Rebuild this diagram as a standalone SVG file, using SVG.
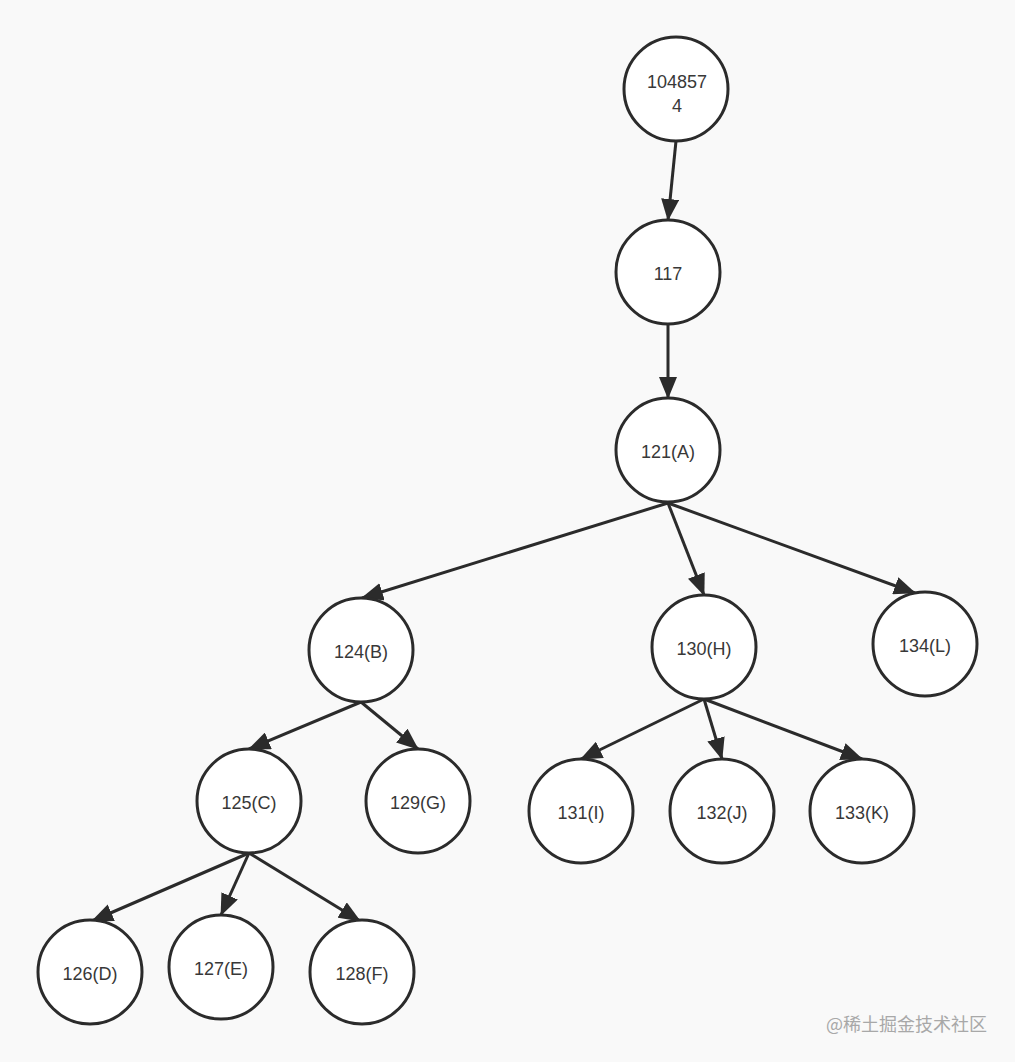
<svg xmlns="http://www.w3.org/2000/svg" width="1015" height="1062" viewBox="0 0 1015 1062">
<defs>
<style>
.n circle{fill:#ffffff;stroke:#2b2b2b;stroke-width:3}
.n text{font-family:"Liberation Sans","Noto Sans",Arial,sans-serif;font-size:18px;fill:#383838;text-anchor:middle}
.e line{stroke:#2b2b2b;stroke-width:3;marker-end:url(#ah)}
.wm{font-family:"Noto Sans CJK SC","Noto Sans",sans-serif;font-size:18px;fill:#a8a8a8}
</style>
<marker id="ah" markerUnits="userSpaceOnUse" markerWidth="22" markerHeight="18" refX="21" refY="9" orient="auto">
<path d="M0,0 L22,9 L0,18 z" fill="#2b2b2b"/>
</marker>
</defs>
<rect width="1015" height="1062" fill="#f9f9f9"/>
<g id="connectors" class="e">
<line x1="676" y1="141" x2="668" y2="220"/>
<line x1="668" y1="324" x2="668" y2="398"/>
<line x1="668" y1="503" x2="362" y2="598"/>
<line x1="668" y1="503" x2="704" y2="595"/>
<line x1="668" y1="503" x2="915" y2="593"/>
<line x1="361" y1="702" x2="249" y2="749"/>
<line x1="361" y1="702" x2="418" y2="749"/>
<line x1="704" y1="699" x2="581" y2="759"/>
<line x1="704" y1="699" x2="722" y2="759"/>
<line x1="704" y1="699" x2="862" y2="759"/>
<line x1="249" y1="853" x2="92" y2="921"/>
<line x1="249" y1="853" x2="221" y2="915"/>
<line x1="249" y1="853" x2="360" y2="921"/>
</g>
<g id="n1048574" class="n"><circle cx="676" cy="89" r="52"/><text x="677" y="88">104857</text><text x="677" y="112">4</text></g>
<g id="n117" class="n"><circle cx="668" cy="272" r="52"/><text x="668" y="280">117</text></g>
<g id="n121" class="n"><circle cx="668" cy="450" r="52"/><text x="668" y="458">121(A)</text></g>
<g id="n124" class="n"><circle cx="361" cy="650" r="52"/><text x="361" y="658">124(B)</text></g>
<g id="n130" class="n"><circle cx="704" cy="647" r="52"/><text x="704" y="655">130(H)</text></g>
<g id="n134" class="n"><circle cx="925" cy="644" r="52"/><text x="925" y="652">134(L)</text></g>
<g id="n125" class="n"><circle cx="249" cy="801" r="52"/><text x="249" y="809">125(C)</text></g>
<g id="n129" class="n"><circle cx="418" cy="801" r="52"/><text x="418" y="809">129(G)</text></g>
<g id="n131" class="n"><circle cx="581" cy="811" r="52"/><text x="581" y="819">131(I)</text></g>
<g id="n132" class="n"><circle cx="722" cy="811" r="52"/><text x="722" y="819">132(J)</text></g>
<g id="n133" class="n"><circle cx="862" cy="811" r="52"/><text x="862" y="819">133(K)</text></g>
<g id="n126" class="n"><circle cx="90" cy="972" r="52"/><text x="90" y="980">126(D)</text></g>
<g id="n127" class="n"><circle cx="221" cy="967" r="52"/><text x="221" y="975">127(E)</text></g>
<g id="n128" class="n"><circle cx="362" cy="972" r="52"/><text x="362" y="980">128(F)</text></g>
<text class="wm" x="826" y="1031">@稀土掘金技术社区</text>
</svg>
